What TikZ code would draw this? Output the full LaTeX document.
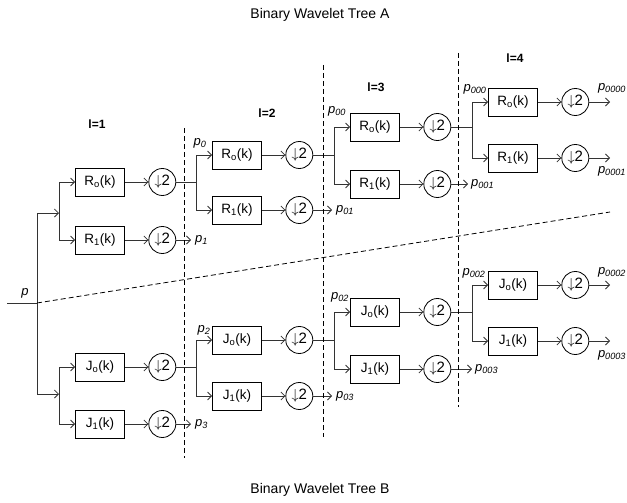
\documentclass[tikz,border=0pt]{standalone}
\usepackage{fontspec}
\setmainfont{Liberation Sans}
\usetikzlibrary{arrows.meta,positioning}
\tikzset{
  filt/.style={rectangle,draw=black,line width=0.8pt,
    minimum width=49pt,minimum height=28pt,inner sep=0pt,
    font=\fontsize{13.5}{15}\selectfont},
  dsamp/.style={circle,draw=black,line width=0.8pt,
    minimum size=27pt,inner sep=0pt,
    font=\fontsize{15}{16}\selectfont},
  arr/.style={-{Straight Barb[length=4pt,width=8pt]},line width=0.8pt,draw=black!80},
  wire/.style={line width=0.8pt,draw=black!80},
  cut/.style={draw=black,line width=0.8pt,dash pattern=on 5pt off 3pt},
  plbl/.style={font=\fontsize{13}{15}\selectfont\itshape,inner sep=0pt},
  lvl/.style={font=\fontsize{12}{14}\selectfont\bfseries,inner sep=0pt},
  ttl/.style={font=\fontsize{14}{16}\selectfont,inner sep=0pt},
}
\newcommand{\dn}{$\downarrow$2}

\begin{document}
\begin{tikzpicture}[x=1pt,y=-1pt,node distance=23.5pt]
  \useasboundingbox (0,0) rectangle (627,503);
  % titles and levels
  \node (tA) [ttl] at (320,15) {Binary Wavelet Tree A};
  \node (tB) [ttl] at (320,490) {Binary Wavelet Tree B};
  \node (l1) [lvl] at (97,124) {l=1};
  \node (l2) [lvl] at (267,113) {l=2};
  \node (l3) [lvl] at (376,87) {l=3};
  \node (l4) [lvl] at (515,58) {l=4};
  % tree A
  \node (r1u) [filt] at (100,182) {R\textsubscript{o}(k)};
  \node (dr1u) [dsamp, right=of r1u] {\dn};
  \node (r1l) [filt] at (100,240) {R\textsubscript{1}(k)};
  \node (dr1l) [dsamp, right=of r1l] {\dn};
  \node (r2u) [filt] at (237,155) {R\textsubscript{o}(k)};
  \node (dr2u) [dsamp, right=of r2u] {\dn};
  \node (r2l) [filt] at (237,210) {R\textsubscript{1}(k)};
  \node (dr2l) [dsamp, right=of r2l] {\dn};
  \node (r3u) [filt] at (375,127) {R\textsubscript{o}(k)};
  \node (dr3u) [dsamp, right=of r3u] {\dn};
  \node (r3l) [filt] at (375,184) {R\textsubscript{1}(k)};
  \node (dr3l) [dsamp, right=of r3l] {\dn};
  \node (r4u) [filt] at (513,102) {R\textsubscript{o}(k)};
  \node (dr4u) [dsamp, right=of r4u] {\dn};
  \node (r4l) [filt] at (513,158) {R\textsubscript{1}(k)};
  \node (dr4l) [dsamp, right=of r4l] {\dn};
  % tree B
  \node (j1u) [filt] at (100,367) {J\textsubscript{o}(k)};
  \node (dj1u) [dsamp, right=of j1u] {\dn};
  \node (j1l) [filt] at (100,424) {J\textsubscript{1}(k)};
  \node (dj1l) [dsamp, right=of j1l] {\dn};
  \node (j2u) [filt] at (237,340) {J\textsubscript{o}(k)};
  \node (dj2u) [dsamp, right=of j2u] {\dn};
  \node (j2l) [filt] at (237,396) {J\textsubscript{1}(k)};
  \node (dj2l) [dsamp, right=of j2l] {\dn};
  \node (j3u) [filt] at (375,312) {J\textsubscript{o}(k)};
  \node (dj3u) [dsamp, right=of j3u] {\dn};
  \node (j3l) [filt] at (375,369) {J\textsubscript{1}(k)};
  \node (dj3l) [dsamp, right=of j3l] {\dn};
  \node (j4u) [filt] at (513,285) {J\textsubscript{o}(k)};
  \node (dj4u) [dsamp, right=of j4u] {\dn};
  \node (j4l) [filt] at (513,341) {J\textsubscript{1}(k)};
  \node (dj4l) [dsamp, right=of j4l] {\dn};

  % branch points and free ends
  \coordinate (pin) at (7,303);   \coordinate (pj) at (37,303);
  \coordinate (sr1) at (59,213);  \coordinate (sj1) at (59,394);
  \coordinate (sr2) at (196,182); \coordinate (sj2) at (196,367);
  \coordinate (sr3) at (334,155); \coordinate (sj3) at (334,340);
  \coordinate (sr4) at (472,127); \coordinate (sj4) at (472,312);
  \coordinate (or1) at (191,240); \coordinate (oj1) at (191,424);
  \coordinate (or2) at (332,210); \coordinate (oj2) at (332,396);
  \coordinate (or3) at (468,184); \coordinate (oj3) at (472,369);
  \coordinate (or4u) at (610,102); \coordinate (or4l) at (610,158);
  \coordinate (oj4u) at (610,285); \coordinate (oj4l) at (610,341);

  \draw[wire] (pin) -- (pj);
  \draw[arr] (pj) |- (sr1);
  \draw[arr] (pj) |- (sj1);
  \draw[arr] (sr1) |- (r1u.west); \draw[arr] (sr1) |- (r1l.west);
  \draw[arr] (sr2) |- (r2u.west); \draw[arr] (sr2) |- (r2l.west);
  \draw[arr] (sr3) |- (r3u.west); \draw[arr] (sr3) |- (r3l.west);
  \draw[arr] (sr4) |- (r4u.west); \draw[arr] (sr4) |- (r4l.west);
  \draw[arr] (sj1) |- (j1u.west); \draw[arr] (sj1) |- (j1l.west);
  \draw[arr] (sj2) |- (j2u.west); \draw[arr] (sj2) |- (j2l.west);
  \draw[arr] (sj3) |- (j3u.west); \draw[arr] (sj3) |- (j3l.west);
  \draw[arr] (sj4) |- (j4u.west); \draw[arr] (sj4) |- (j4l.west);
  \draw[arr] (r1u)--(dr1u); \draw[arr] (r1l)--(dr1l);
  \draw[arr] (r2u)--(dr2u); \draw[arr] (r2l)--(dr2l);
  \draw[arr] (r3u)--(dr3u); \draw[arr] (r3l)--(dr3l);
  \draw[arr] (r4u)--(dr4u); \draw[arr] (r4l)--(dr4l);
  \draw[arr] (j1u)--(dj1u); \draw[arr] (j1l)--(dj1l);
  \draw[arr] (j2u)--(dj2u); \draw[arr] (j2l)--(dj2l);
  \draw[arr] (j3u)--(dj3u); \draw[arr] (j3l)--(dj3l);
  \draw[arr] (j4u)--(dj4u); \draw[arr] (j4l)--(dj4l);
  \draw[wire] (dr1u)--(sr2); \draw[wire] (dr2u)--(sr3); \draw[wire] (dr3u)--(sr4);
  \draw[wire] (dj1u)--(sj2); \draw[wire] (dj2u)--(sj3); \draw[wire] (dj3u)--(sj4);
  \draw[arr] (dr1l)--(or1); \draw[arr] (dr2l)--(or2); \draw[arr] (dr3l)--(or3);
  \draw[arr] (dj1l)--(oj1); \draw[arr] (dj2l)--(oj2); \draw[arr] (dj3l)--(oj3);
  \draw[arr] (dr4u)--(or4u); \draw[arr] (dr4l)--(or4l);
  \draw[arr] (dj4u)--(oj4u); \draw[arr] (dj4l)--(oj4l);

  % level borders and tree split
  \coordinate (c1t) at (184,128); \coordinate (c1b) at (184,458);
  \coordinate (c2t) at (323,65);  \coordinate (c2b) at (323,437);
  \coordinate (c3t) at (458,53);  \coordinate (c3b) at (458,407);
  \coordinate (split) at (610,212);
  \draw[cut] (c1t) -- (c1b);
  \draw[cut] (c2t) -- (c2b);
  \draw[cut] (c3t) -- (c3b);
  \draw[cut] (pj) -- (split);

  % signal labels
  \node (lp) [plbl] at (25,293) {p};
  \node (lp0) [plbl] at (200,143) {p\textsubscript{0}};
  \node (lp00) [plbl] at (337,111) {p\textsubscript{00}};
  \node (lp000) [plbl] at (475,89) {p\textsubscript{000}};
  \node (lp1) [plbl, right=4pt of or1] {p\textsubscript{1}};
  \node (lp01) [plbl, right=4pt of or2] {p\textsubscript{01}};
  \node (lp001) [plbl, right=3pt of or3] {p\textsubscript{001}};
  \node (lp0000) [plbl] at (612,88) {p\textsubscript{0000}};
  \node (lp0001) [plbl] at (612,171) {p\textsubscript{0001}};
  \node (lp2) [plbl] at (204,330) {p\textsubscript{2}};
  \node (lp02) [plbl] at (340,297) {p\textsubscript{02}};
  \node (lp002) [plbl] at (474,273) {p\textsubscript{002}};
  \node (lp3) [plbl, right=4pt of oj1] {p\textsubscript{3}};
  \node (lp03) [plbl, right=4pt of oj2] {p\textsubscript{03}};
  \node (lp003) [plbl, right=3pt of oj3] {p\textsubscript{003}};
  \node (lp0002) [plbl] at (612,272) {p\textsubscript{0002}};
  \node (lp0003) [plbl] at (612,355) {p\textsubscript{0003}};
\end{tikzpicture}
\end{document}
